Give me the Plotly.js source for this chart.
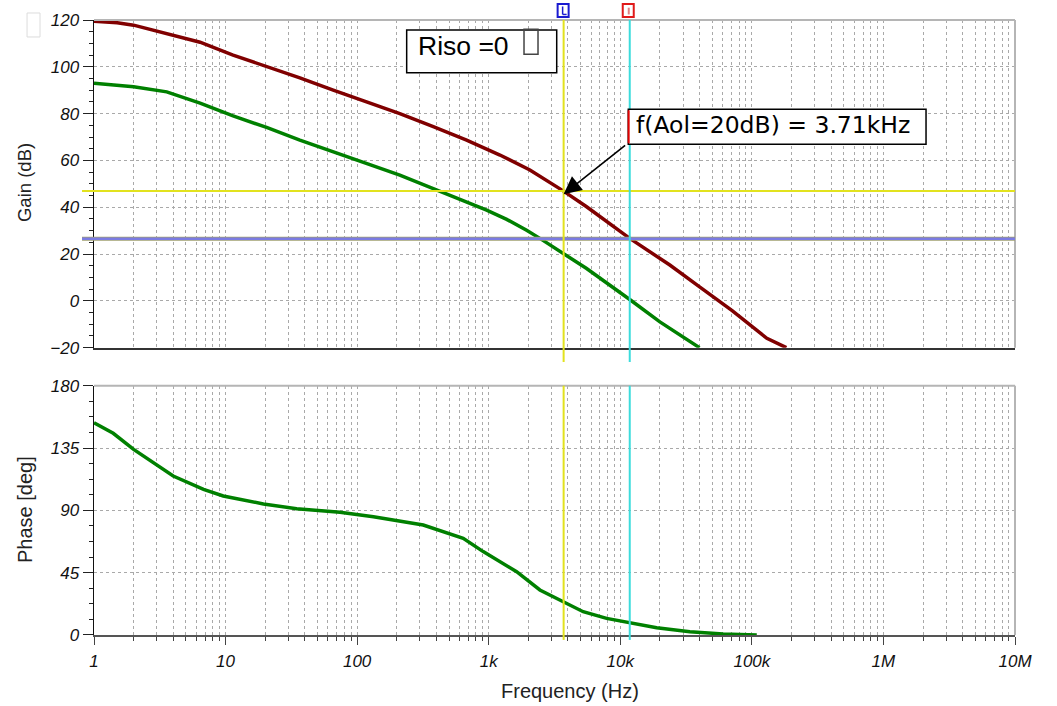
<!DOCTYPE html>
<html>
<head>
<meta charset="utf-8">
<script src="https://cdn.plot.ly/plotly-3.0.1.min.js"></script>
<style>html,body{margin:0;padding:0;background:#fff;}#chart{width:1057px;height:706px;}</style>
</head>
<body>
<div id="chart"></div>
<script>
// ---- data ----
const freqRed = [1, 1.5, 2, 3.57, 6.4, 11.4, 20.5, 36.7, 65.8, 118, 211, 379, 679, 1217, 2056, 3683, 5546, 11800, 23800, 40300, 57100, 70800, 130000, 183000];
const gainRed = [119.5, 118.8, 117.8, 114.3, 110.5, 105, 100.3, 95.3, 90, 85, 80, 74.4, 68.7, 62.3, 55.9, 47, 40.2, 26.7, 15.3, 5.9, -0.4, -4.2, -16, -20];

const freqGreen = [1, 2, 3.57, 6.4, 11.4, 20.5, 36.7, 65.8, 118, 211, 379, 679, 964, 1370, 1941, 2449, 3683, 5546, 11800, 20000, 40000];
const gainGreen = [93, 91.5, 89.3, 84.5, 79, 74.1, 68.7, 63.7, 58.7, 53.7, 48, 42.3, 38.8, 34.8, 30.2, 26.7, 20.3, 13.8, 0.6, -9, -20];

const freqPhase = [1, 1.4, 2, 4, 6.8, 9.6, 19.4, 34.7, 74, 133, 318, 426, 640, 908, 1630, 2449, 3683, 5225, 7870, 11800, 18900, 33800, 60500, 109000];
const phase = [153.3, 145.6, 134, 114.8, 105.2, 100.4, 94.6, 91.2, 88.6, 85.4, 79.4, 75.3, 69.8, 60.2, 45.7, 32.5, 24, 16.8, 12, 8.9, 5.3, 2.4, 0.7, 0];

const xTickVals = [1, 10, 100, 1e3, 1e4, 1e5, 1e6, 1e7];
const xTickText = ['1', '10', '100', '1k', '10k', '100k', '1M', '10M'];
const gainTicks = [-20, 0, 20, 40, 60, 80, 100, 120];
const phaseTicks = [0, 45, 90, 135, 180];

const cursorA = 3710;     // yellow cursor
const cursorB = 11800;    // cyan cursor
const levelA = 46.9;      // yellow horizontal cursor (dB)
const levelB = 26.5;      // blue horizontal cursor (dB)
const arrowTarget = {f: 3710, g: 45.6};

const label1 = 'Riso =0';
const label2 = 'f(Aol=20dB) = 3.71kHz';

// ---- helpers ----
const minorVals = [];
for (let d = 0; d < 7; d++) for (let k = 2; k <= 9; k++) minorVals.push(k * Math.pow(10, d));

const FONT = 'Liberation Sans, Arial, sans-serif';
const gridC = '#a9a9a9';
const tickFont = {family: 'Liberation Sans', size: 17, color: '#111', style: 'italic'};

const TOP_DOM = [0.4672, 1];
const BOT_DOM = [0, 0.4054];
const px = f => Math.log10(f) / 7;

const traces = [
  {x: freqGreen, y: gainGreen, xaxis: 'x', yaxis: 'y', mode: 'lines', line: {color: '#008000', width: 3.5}, hoverinfo: 'skip'},
  {x: freqRed, y: gainRed, xaxis: 'x', yaxis: 'y', mode: 'lines', line: {color: '#800000', width: 3.5}, hoverinfo: 'skip'},
  {x: freqPhase, y: phase, xaxis: 'x2', yaxis: 'y2', mode: 'lines', line: {color: '#008000', width: 3.5}, hoverinfo: 'skip'}
];

const xCommon = {
  type: 'log', range: [0, 7], showgrid: true, gridcolor: gridC, griddash: '3px,3px', gridwidth: 1,
  zeroline: false, tickvals: xTickVals,
  minor: {tickmode: 'array', tickvals: minorVals, showgrid: true, gridcolor: gridC, griddash: '3px,3px', gridwidth: 1}
};

const W = 921;

const layout = {
  width: 1057, height: 706,
  margin: {l: 94, r: 42, t: 20, b: 71},
  paper_bgcolor: '#fff', plot_bgcolor: '#fff',
  showlegend: false,
  font: {family: FONT, color: '#000'},
  xaxis: Object.assign({}, xCommon, {
    anchor: 'y', domain: [0, 1], showticklabels: false, ticks: '',
    showline: true, linecolor: '#333', linewidth: 2,
    minor: Object.assign({}, xCommon.minor, {ticks: ''})
  }),
  xaxis2: Object.assign({}, xCommon, {
    anchor: 'y2', domain: [0, 1], ticktext: xTickText, tickfont: tickFont,
    ticks: 'outside', ticklen: 8, tickwidth: 1, tickcolor: '#444', ticklabelstandoff: 2,
    showline: true, linecolor: '#555', linewidth: 2,
    minor: Object.assign({}, xCommon.minor, {ticks: 'outside', ticklen: 4, tickcolor: '#444', tickwidth: 1})
  }),
  yaxis: {
    domain: TOP_DOM, anchor: 'x', range: [-20, 120], tickvals: gainTicks, tickfont: tickFont,
    ticks: 'outside', ticklen: 10, tickcolor: '#222', tickwidth: 1,
    showline: true, linecolor: '#111', linewidth: 1.5, zeroline: false,
    showgrid: true, gridcolor: gridC, griddash: '3px,3px', gridwidth: 1,
    minor: {dtick: 5, ticks: 'outside', ticklen: 4, tickcolor: '#222', showgrid: false}
  },
  yaxis2: {
    domain: BOT_DOM, anchor: 'x2', range: [0, 180], tickvals: phaseTicks, tickfont: tickFont,
    ticks: 'outside', ticklen: 10, tickcolor: '#222', tickwidth: 1,
    showline: true, linecolor: '#111', linewidth: 1.5, zeroline: false,
    showgrid: true, gridcolor: gridC, griddash: '3px,3px', gridwidth: 1,
    minor: {dtick: 11.25, ticks: 'outside', ticklen: 4, tickcolor: '#222', showgrid: false}
  },
  shapes: [
    {type: 'line', xref: 'paper', yref: 'paper', x0: 0, x1: 1, y0: 1, y1: 1, line: {color: '#b5b5b5', width: 2}},
    {type: 'line', xref: 'paper', yref: 'paper', x0: 1, x1: 1, y0: TOP_DOM[0], y1: 1, line: {color: '#b5b5b5', width: 2}},
    {type: 'line', xref: 'paper', yref: 'paper', x0: 0, x1: 1, y0: BOT_DOM[1], y1: BOT_DOM[1], line: {color: '#b5b5b5', width: 2}},
    {type: 'line', xref: 'paper', yref: 'paper', x0: 1, x1: 1, y0: 0, y1: BOT_DOM[1], line: {color: '#b5b5b5', width: 2}},
    {type: 'line', xref: 'paper', yref: 'y', x0: -0.013, x1: 1, y0: levelA, y1: levelA, line: {color: '#e2e21e', width: 2}},
    {type: 'line', xref: 'paper', yref: 'y', x0: -0.013, x1: 1, y0: levelB, y1: levelB, line: {color: '#a0a070', width: 4}},
    {type: 'line', xref: 'paper', yref: 'y', x0: -0.013, x1: 1, y0: levelB, y1: levelB, line: {color: '#7b7be2', width: 2.5}},
    {type: 'line', xref: 'x', yref: 'paper', x0: cursorA, x1: cursorA, y0: 0.4439, y1: 1, line: {color: '#e2e21e', width: 2}},
    {type: 'line', xref: 'x', yref: 'paper', x0: cursorB, x1: cursorB, y0: 0.4439, y1: 1, line: {color: '#3cdcdc', width: 2}},
    {type: 'line', xref: 'x2', yref: 'paper', x0: cursorA, x1: cursorA, y0: -0.008, y1: BOT_DOM[1], line: {color: '#e2e21e', width: 2}},
    {type: 'line', xref: 'x2', yref: 'paper', x0: cursorB, x1: cursorB, y0: -0.008, y1: BOT_DOM[1], line: {color: '#3cdcdc', width: 2}},
    {type: 'rect', xref: 'paper', yref: 'paper', x0: px(cursorA) - 6 / W, x1: px(cursorA) + 5 / W, y0: 1.0049, y1: 1.026, line: {color: '#1a1ad0', width: 2}, fillcolor: '#fff'},
    {type: 'line', xref: 'paper', yref: 'paper', x0: px(cursorA) - 1 / W, x1: px(cursorA) - 1 / W, y0: 1.009, y1: 1.022, line: {color: '#1a1ad0', width: 1.5}},
    {type: 'line', xref: 'paper', yref: 'paper', x0: px(cursorA) - 1 / W, x1: px(cursorA) + 3 / W, y0: 1.009, y1: 1.009, line: {color: '#1a1ad0', width: 1.5}},
    {type: 'rect', xref: 'paper', yref: 'paper', x0: px(cursorB) - 7 / W, x1: px(cursorB) + 4 / W, y0: 1.0049, y1: 1.026, line: {color: '#e01a1a', width: 2}, fillcolor: '#fff'},
    {type: 'line', xref: 'paper', yref: 'paper', x0: px(cursorB) - 1 / W, x1: px(cursorB) - 1 / W, y0: 1.009, y1: 1.02, line: {color: '#e08080', width: 2}},
    {type: 'rect', xref: 'paper', yref: 'paper', x0: 0.3395, x1: 0.5024, y0: 0.9143, y1: 0.9837, line: {color: '#000', width: 1.5}, fillcolor: '#fff'},
    {type: 'rect', xref: 'paper', yref: 'paper', x0: 0.4669, x1: 0.4821, y0: 0.9442, y1: 0.9849, line: {color: '#444', width: 1.5}, fillcolor: 'rgba(0,0,0,0)'},
    {type: 'rect', xref: 'paper', yref: 'paper', x0: 0.5801, x1: 0.9034, y0: 0.7979, y1: 0.8548, line: {color: '#000', width: 1.5}, fillcolor: '#fff'},
    {type: 'line', xref: 'paper', yref: 'paper', x0: 0.5805, x1: 0.5805, y0: 0.7995, y1: 0.8532, line: {color: '#e00000', width: 2}},
    {type: 'rect', xref: 'paper', yref: 'paper', x0: -0.0727, x1: -0.0586, y0: 0.9724, y1: 1.0114, line: {color: '#dcdcdc', width: 1}, fillcolor: 'rgba(0,0,0,0)'}
  ],
  annotations: [
    {text: label1, xref: 'paper', yref: 'paper', x: 0.3500, y: 0.9577, xanchor: 'left', yanchor: 'middle', showarrow: false,
     font: {family: FONT, size: 26.5, color: '#000'}},
    {text: label2, xref: 'paper', yref: 'paper', x: 0.5866, y: 0.8293, xanchor: 'left', yanchor: 'middle', showarrow: false,
     font: {family: 'DejaVu Sans, sans-serif', size: 23.5, color: '#000'}},
    {text: '', xref: 'x', yref: 'y', x: Math.log10(arrowTarget.f), y: arrowTarget.g, showarrow: true,
     ax: 63, ay: -50, arrowhead: 2, arrowsize: 2.2, arrowwidth: 1.6, arrowcolor: '#000', standoff: 0},
    {text: 'Gain (dB)', xref: 'paper', yref: 'paper', x: -0.0749, y: 1 - (183 - 20) / 615, textangle: -90, showarrow: false,
     xanchor: 'center', yanchor: 'middle', font: {family: FONT, size: 18.5, color: '#222'}},
    {text: 'Phase [deg]', xref: 'paper', yref: 'paper', x: -0.0749, y: 1 - (510 - 20) / 615, textangle: -90, showarrow: false,
     xanchor: 'center', yanchor: 'middle', font: {family: FONT, size: 20, color: '#222'}},
    {text: 'Frequency (Hz)', xref: 'paper', yref: 'paper', x: 0.517, y: -0.091, showarrow: false,
     xanchor: 'center', yanchor: 'middle', font: {family: FONT, size: 20, color: '#222'}}
  ]
};

Plotly.newPlot('chart', traces, layout, {displayModeBar: false, staticPlot: true});
</script>
</body>
</html>
